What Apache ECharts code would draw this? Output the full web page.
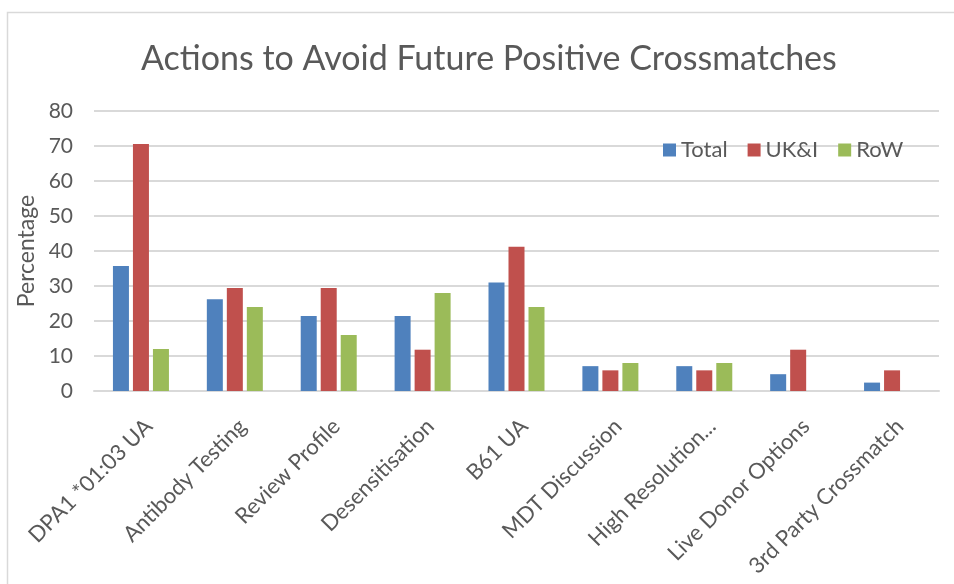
<!DOCTYPE html>
<html>
<head>
<meta charset="utf-8">
<script src="https://cdn.jsdelivr.net/npm/echarts@6/dist/echarts.min.js"></script>
<style>
html,body{margin:0;padding:0;background:#fff;}
#chart{width:954px;height:584px;}
</style>
</head>
<body>
<div id="chart"></div>
<script>
var titleText = 'Actions to Avoid Future Positive Crossmatches';
var categories = ['DPA1 *01:03 UA','Antibody Testing','Review Profile','Desensitisation','B61 UA','MDT Discussion','High Resolution...','Live Donor Options','3rd Party Crossmatch'];
var seriesNames = ['Total','UK&I','RoW'];
var totalValues = [35.7, 26.2, 21.4, 21.4, 31.0, 7.1, 7.1, 4.8, 2.4];
var ukiValues = [70.6, 29.4, 29.4, 11.8, 41.2, 5.9, 5.9, 11.8, 5.9];
var rowValues = [12, 24, 16, 28, 24, 8, 8, 0, 0];
var yTicks = [0, 10, 20, 30, 40, 50, 60, 70, 80];
var colors = ['#4F81BD', '#C0504D', '#9BBB59'];
var FONT = 'Lato, "Open Sans", sans-serif';
var TXT = '#595959';

var chart = echarts.init(document.getElementById('chart'), null, {renderer: 'canvas'});
var seriesData = [totalValues, ukiValues, rowValues];
chart.setOption({
  animation: false,
  backgroundColor: '#fff',
  color: colors,
  graphic: [{
    type: 'rect',
    shape: {x: 7.5, y: 12.5, width: 1000, height: 1000},
    style: {fill: 'none', stroke: '#D9D9D9', lineWidth: 1.5},
    silent: true, z: -1
  }],
  title: {
    text: titleText,
    left: 141, top: 42, padding: 0,
    textStyle: {fontFamily: FONT, fontSize: 34, fontWeight: 'normal', color: TXT}
  },
  legend: {
    data: seriesNames,
    left: 663, top: 139, padding: 0,
    itemWidth: 13, itemHeight: 13, itemGap: 20,
    icon: 'rect',
    textStyle: {fontFamily: FONT, fontSize: 22, color: TXT}
  },
  grid: {left: 94, right: 15, top: 111, bottom: 193, containLabel: false},
  xAxis: {
    type: 'category',
    data: categories,
    axisLine: {show: true, lineStyle: {color: '#D9D9D9', width: 2}},
    axisTick: {show: false},
    axisLabel: {rotate: 45, interval: 0, margin: 24, verticalAlign: 'top', align: 'right', fontFamily: FONT, fontSize: 22, color: TXT}
  },
  yAxis: {
    type: 'value',
    min: yTicks[0], max: yTicks[yTicks.length - 1], interval: 10,
    name: 'Percentage',
    nameLocation: 'middle',
    nameGap: 49,
    nameTextStyle: {fontFamily: FONT, fontSize: 23, color: TXT},
    axisLine: {show: false},
    axisTick: {show: false},
    axisLabel: {margin: 21, fontFamily: FONT, fontSize: 21, color: TXT},
    splitLine: {lineStyle: {color: '#D9D9D9', width: 2}}
  },
  series: seriesNames.map(function (n, i) {
    return {
      name: n, type: 'bar', data: seriesData[i],
      barWidth: 16, barGap: '25%', barCategoryGap: '39%'
    };
  })
});
</script>
</body>
</html>
